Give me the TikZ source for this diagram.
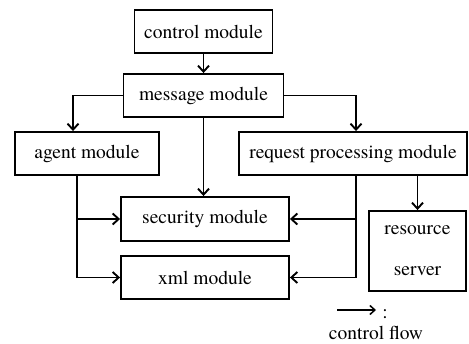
\documentclass[tikz,border=0pt]{standalone}
\usepackage{fontspec}
\setmainfont{texgyretermes}[Extension=.otf,UprightFont=*-regular,BoldFont=*-bold,ItalicFont=*-italic,BoldItalicFont=*-bolditalic]
\usetikzlibrary{arrows.meta}
\begin{document}
\begin{tikzpicture}[x=1pt,y=-1pt,
  line width=1.9pt,
  >={Straight Barb[length=6pt,width=11pt]},
  modbox/.style={draw,rectangle,inner sep=0pt,font=\fontsize{19.5}{23}\selectfont},
  txt/.style={inner sep=0pt,font=\fontsize{19.5}{23}\selectfont}]
\useasboundingbox (0,0) rectangle (469,344);

% module boxes
\node[modbox,minimum width=138pt,minimum height=43pt] (control) at (203.5,31.5) {control module};
\node[modbox,minimum width=160pt,minimum height=43pt] (message) at (203.5,95.5) {message module};
\node[modbox,minimum width=144pt,minimum height=43pt] (agent) at (87,153.5) {agent module};
\node[modbox,minimum width=228pt,minimum height=43pt] (request) at (353,153.5) {request processing module};
\node[modbox,minimum width=168pt,minimum height=44pt] (security) at (205,219) {security module};
\node[modbox,minimum width=168pt,minimum height=43pt] (xml) at (205,277.5) {xml module};
\node[modbox,minimum width=97pt,minimum height=80pt,align=center,
      font=\fontsize{19.5}{41}\selectfont] (resource) at (417.5,251) {resource\\server};

% branch points on the module edges
\coordinate (mw) at ([xshift=-14pt]agent.north);
\coordinate (me) at ([xshift=3pt]request.north);
\coordinate (ab) at ([xshift=-10pt]agent.south);
\coordinate (rb) at ([xshift=3pt]request.south);

% control flow
\draw[->] (control) -- (message);
\draw[->] (message.west) -| (mw);
\draw[->] (message.east) -| (me);
\draw[->] (message.south) -- (message.south |- security.north);
\draw[->] (ab) |- (security.west);
\draw[->] (ab) |- (xml.west);
\draw[->] (rb) |- (security.east);
\draw[->] (rb) |- (xml.east);
\draw[->] (resource.north |- request.south) -- (resource.north);

% legend
\coordinate (l1) at (337,310);
\coordinate (l2) at (376,310);
\draw[->,line width=1.5pt,>={Straight Barb[length=5pt,width=9pt]}] (l1) -- (l2);
\node[txt] (colon) at (385,314) {:};
\node[txt] (legend) at (376,332.5) {control flow};
\end{tikzpicture}
\end{document}
